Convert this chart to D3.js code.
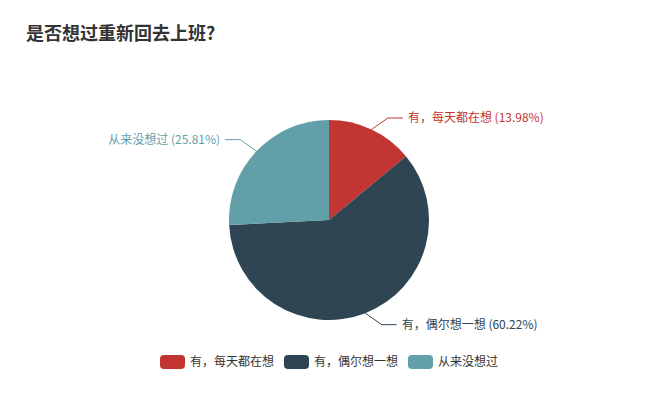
<!DOCTYPE html>
<html>
<head>
<meta charset="utf-8">
<script src="https://cdn.jsdelivr.net/npm/d3@7"></script>
<style>
  body { margin: 0; background: #fff; }
  text { font-family: "Noto Sans CJK SC", "Noto Sans", sans-serif; }
</style>
</head>
<body>
<svg id="chart" width="658" height="400"></svg>
<script>
// 数据
var categories = ["有，每天都在想", "有，偶尔想一想", "从来没想过"];
var percents = [13.98, 60.22, 25.81];
var colors = ["#c23531", "#2f4554", "#61a0a8"];

var svg = d3.select("#chart"),
    width = 658,
    height = 400,
    cx = 329,
    cy = 220,
    radius = 100;

// 标题
svg.append("text")
    .attr("x", 26)
    .attr("y", 40)
    .attr("font-size", 18)
    .attr("font-weight", "bold")
    .attr("fill", "#333")
    .text("是否想过重新回去上班?");

var data = categories.map((c, i) => ({name: c, value: percents[i], color: colors[i]}));

var pie = d3.pie().sort(null).value(d => d.value);
var arc = d3.arc().innerRadius(0).outerRadius(radius);
var arcs = pie(data);

var g = svg.append("g").attr("transform", `translate(${cx},${cy})`);

g.selectAll("path.slice")
    .data(arcs)
    .enter().append("path")
    .attr("class", "slice")
    .attr("d", arc)
    .attr("fill", d => d.data.color);

// 标签线
var len1 = 20, len2 = 15, tilt = 35 * Math.PI / 180;

arcs.forEach(function(d) {
    var a = (d.startAngle + d.endAngle) / 2,
        sx = Math.sin(a), sy = -Math.cos(a),
        dirX = sx < 0 ? -1 : 1,
        dirY = sy < 0 ? -1 : 1,
        p1 = [radius * sx, radius * sy],
        p2 = [p1[0] + dirX * len1 * Math.cos(tilt), p1[1] + dirY * len1 * Math.sin(tilt)],
        p3 = [p2[0] + dirX * len2, p2[1]];

    g.append("polyline")
        .attr("points", [p1, p2, p3].map(p => p.join(",")).join(" "))
        .attr("fill", "none")
        .attr("stroke", d.data.color)
        .attr("stroke-width", 1);

    g.append("text")
        .attr("x", p3[0] + dirX * 5)
        .attr("y", p3[1])
        .attr("dy", "0.35em")
        .attr("text-anchor", dirX < 0 ? "end" : "start")
        .attr("font-size", 12)
        .attr("fill", d.data.color)
        .text(d.data.name + " (" + d.data.value.toFixed(2) + "%)");
});

// 图例
var itemW = 25, itemH = 14, gap = 5, itemGap = 10, fs = 12;
var legendItems = categories.map(c => itemW + gap + c.length * fs);
var totalW = d3.sum(legendItems) + itemGap * (categories.length - 1);
var lx = (width - totalW) / 2, ly = 355;

var legend = svg.append("g").attr("class", "legend");
categories.forEach(function(c, i) {
    var item = legend.append("g").attr("transform", `translate(${lx},${ly})`);
    item.append("rect")
        .attr("width", itemW)
        .attr("height", itemH)
        .attr("rx", 4)
        .attr("ry", 4)
        .attr("fill", colors[i]);
    item.append("text")
        .attr("x", itemW + gap)
        .attr("y", itemH / 2)
        .attr("dy", "0.35em")
        .attr("font-size", fs)
        .attr("fill", "#333")
        .text(c);
    lx += legendItems[i] + itemGap;
});
</script>
</body>
</html>
